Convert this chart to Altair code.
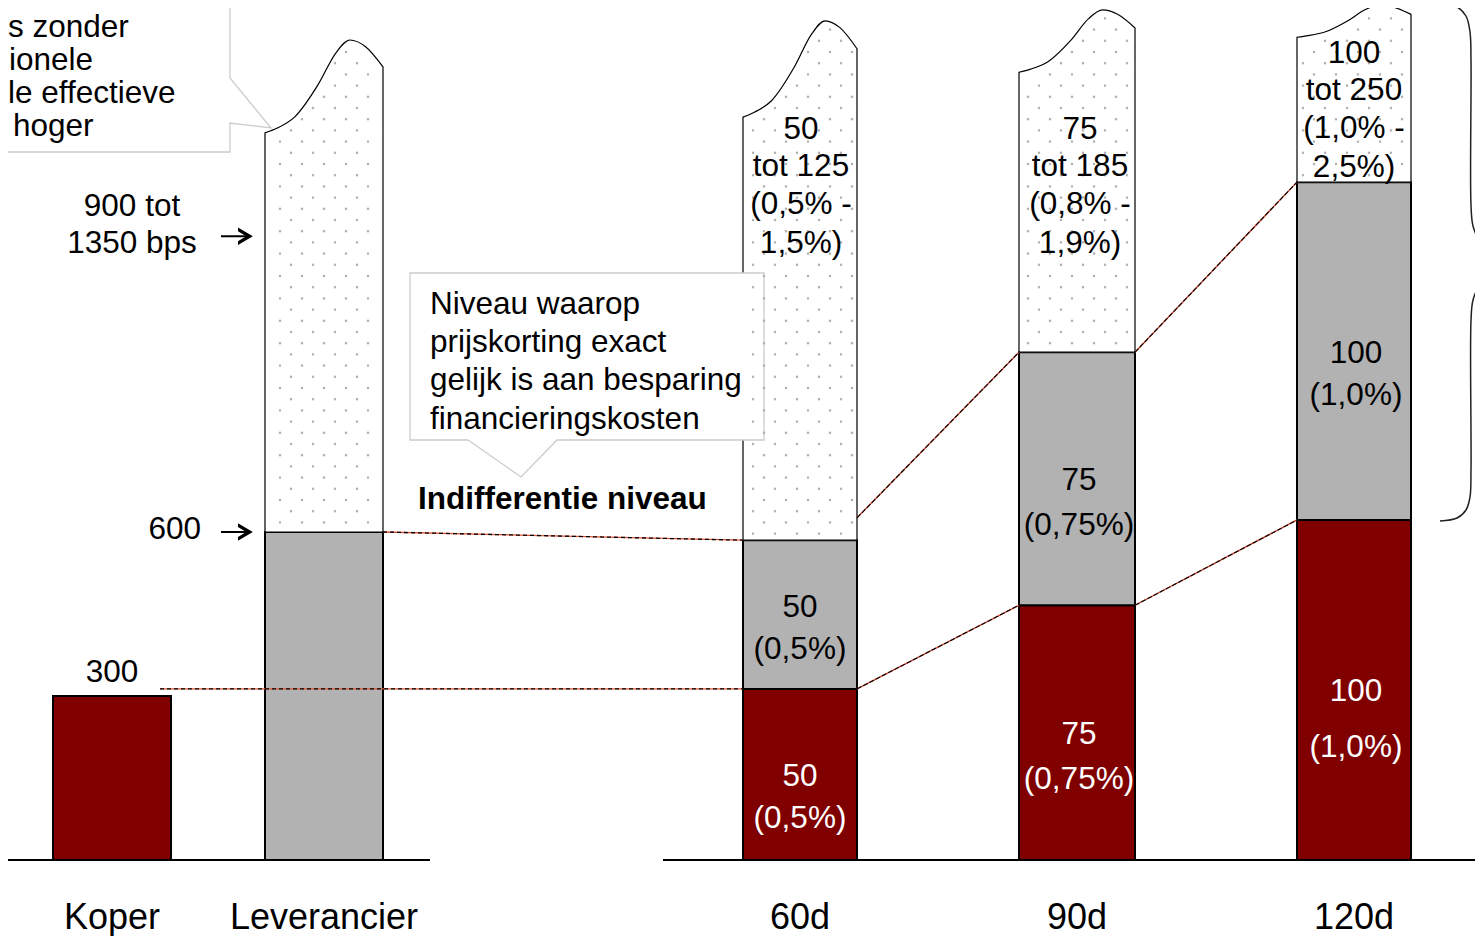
import altair as alt
import numpy as np
import pandas as pd

# ---------------- data (bps scale: Koper = 300, Leverancier = 600)
categories = ["Koper", "Leverancier", "60d", "90d", "120d"]
red_top = [300, 0, 313, 466, 622]          # red segment 0 -> red_top
gray_top = [0, 600, 585, 929, 1240]        # grey segment red_top -> gray_top
dot_left_top = [0, 1330, 1359, 1441, 1505] # dotted (open-ended) segment, left top
dot_peak = [0, 1500, 1535, 1555, 1564]     # dotted segment, peak of the wavy top

dot_labels = [["50", "tot 125", "(0,5% -", "1,5%)"],
              ["75", "tot 185", "(0,8% -", "1,9%)"],
              ["100", "tot 250", "(1,0% -", "2,5%)"]]
gray_labels = [["50", "(0,5%)"], ["75", "(0,75%)"], ["100", "(1,0%)"]]
red_labels = [["50", "(0,5%)"], ["75", "(0,75%)"], ["100", "(1,0%)"]]
koper_label = "300"
level_labels = ["600", "900 tot", "1350 bps"]
level_values = [600, 1141]
box_lines = ["Niveau waarop", "prijskorting exact", "gelijk is aan besparing", "financieringskosten"]
indiff_label = "Indifferentie niveau"
callout_fragments = ["s zonder", "ionele", "le effectieve", "hoger"]

# connector lines (bps levels at each end)
dashed_links = [(0, 313, 2, 313), (1, 600, 2, 585)]
solid_links = [(2, 313, 3, 466), (3, 466, 4, 622), (2, 626, 3, 929), (3, 929, 4, 1240)]

# ---------------- layout
K = 328 / 600.0                 # px per bps
BASE = 860                      # baseline, px from top
def Y(py):
    return (BASE - py) / K

BAR_C = [112, 324, 800, 1077, 1354]
BAR_W = [118, 118, 114, 116, 114]
LEFT = [c - w / 2 for c, w in zip(BAR_C, BAR_W)]
RIGHT = [c + w / 2 for c, w in zip(BAR_C, BAR_W)]
RED = "#800000"
GREY = "#b2b2b2"
FONT = "Liberation Sans"
FS = 31.5
CFS = 36
W, H = 1467, 928

XS = alt.Scale(domain=[8, 8 + W], nice=False, zero=False)
YS = alt.Scale(domain=[Y(8 + H), Y(8)], nice=False, zero=False)

def xq(f="x"):
    return alt.X(f"{f}:Q", scale=XS, axis=None)

def yq(f="y"):
    return alt.Y(f"{f}:Q", scale=YS, axis=None)

# ---------------- bars
rows = []
for i, c in enumerate(categories):
    if red_top[i] > 0:
        rows.append(dict(x=LEFT[i], x2=RIGHT[i], y=0, y2=red_top[i], fill=RED))
    if gray_top[i] > 0:
        rows.append(dict(x=LEFT[i], x2=RIGHT[i], y=red_top[i], y2=gray_top[i], fill=GREY))
bars = alt.Chart(pd.DataFrame(rows)).mark_rect(stroke="black", strokeWidth=2).encode(
    x=xq(), x2="x2:Q", y=yq(), y2="y2:Q", fill=alt.Fill("fill:N", scale=None))

# ---------------- dotted open-ended segments with wavy top
SHAPE = [(0, 0), (0.1, 0.05), (0.25, 0.17), (0.45, 0.52), (0.6, 0.86), (0.72, 1.0), (0.85, 0.93), (1.0, 0.71)]
arows, dots = [], []
grid_rows = np.arange(-4, BASE, 11.2)
for i in range(1, 5):
    xs = [LEFT[i] + u * BAR_W[i] for u, v in SHAPE]
    ys = [dot_left_top[i] + v * (dot_peak[i] - dot_left_top[i]) for u, v in SHAPE]
    for xx, yy in zip(xs, ys):
        arows.append(dict(bar=categories[i], x=xx, y=yy, y2=gray_top[i]))
    ys_px = [BASE - yy * K for yy in ys]
    gpx = BASE - gray_top[i] * K
    for r, py in enumerate(grid_rows):
        off = 0 if r % 2 == 0 else 11
        for px in np.arange(5 + off, 1483, 22):
            if LEFT[i] + 4 < px < RIGHT[i] - 4:
                top = np.interp(px, xs, ys_px)
                if top + 5 < py < gpx - 4:
                    dots.append(dict(x=px, y=Y(py)))
dotted = alt.Chart(pd.DataFrame(arows)).mark_area(
    fill="white", stroke="black", strokeWidth=1.2, interpolate="monotone", orient="vertical").encode(
    x=xq(), y=yq(), y2="y2:Q", detail="bar:N")
dotlayer = alt.Chart(pd.DataFrame(dots)).mark_square(size=5, color="#b0b0b0", opacity=1).encode(
    x=xq(), y=yq())

# ---------------- baselines
base_df = pd.DataFrame([dict(x=7, x2=430, y=0, y2=0), dict(x=663, x2=1483, y=0, y2=0)])
baselines = alt.Chart(base_df).mark_rule(color="black", strokeWidth=2).encode(
    x=xq(), x2="x2:Q", y=yq(), y2="y2:Q")

# ---------------- connector lines
def link_rows(links):
    out = []
    for a, ya, b, yb in links:
        xa = 160 if a == 0 else RIGHT[a]
        out.append(dict(x=xa, x2=LEFT[b], y=ya, y2=yb))
    return pd.DataFrame(out)

dash_df = link_rows(dashed_links)
solid_df = link_rows(solid_links)
links = [
    alt.Chart(dash_df).mark_rule(color="#e0553a", strokeWidth=1.3).encode(x=xq(), x2="x2:Q", y=yq(), y2="y2:Q"),
    alt.Chart(dash_df).mark_rule(color="black", strokeWidth=1.3, strokeDash=[4, 3]).encode(x=xq(), x2="x2:Q", y=yq(), y2="y2:Q"),
    alt.Chart(solid_df).mark_rule(color="#d04530", strokeWidth=1.4).encode(x=xq(), x2="x2:Q", y=yq(), y2="y2:Q"),
    alt.Chart(solid_df).mark_rule(color="black", strokeWidth=1.1, strokeDash=[5, 2]).encode(x=xq(), x2="x2:Q", y=yq(), y2="y2:Q"),
]

# ---------------- callout boxes
box_fill = pd.DataFrame([dict(x=-20, x2=230, y=Y(-20), y2=Y(152)), dict(x=410, x2=764, y=Y(273), y2=Y(440))])
boxes = alt.Chart(box_fill).mark_rect(fill="white", strokeWidth=0).encode(x=xq(), x2="x2:Q", y=yq(), y2="y2:Q")
ptr_df = pd.DataFrame([
    dict(p="a", x=229, y=Y(78), y2=Y(123)), dict(p="a", x=271, y=Y(128), y2=Y(128)),
    dict(p="b", x=468, y=Y(439), y2=Y(440)), dict(p="b", x=521, y=Y(439), y2=Y(477)), dict(p="b", x=557, y=Y(439), y2=Y(440)),
])
pointers = alt.Chart(ptr_df).mark_area(fill="white", orient="vertical", interpolate="linear").encode(
    x=xq(), y=yq(), y2="y2:Q", detail="p:N")
outline_pts = [
    ("a", [(-20, 152), (230, 152), (230, 123), (271, 128), (230, 78), (230, -20)]),
    ("b", [(468, 440), (410, 440), (410, 273), (764, 273), (764, 440), (557, 440), (521, 477), (468, 440)]),
]
orows = []
for k, pts in outline_pts:
    for j, (px, py) in enumerate(pts):
        orows.append(dict(p=k, o=j, x=px, y=Y(py)))
outlines = alt.Chart(pd.DataFrame(orows)).mark_line(color="#cccccc", strokeWidth=1.3).encode(
    x=xq(), y=yq(), order="o:Q", detail="p:N")

# ---------------- brace
brace_px = [(1440, 4), (1457, 7), (1466, 16), (1470, 32), (1471, 60), (1471, 205), (1473, 226), (1480, 242),
            (1490, 255), (1498, 263), (1490, 271), (1480, 284), (1473, 300), (1471, 321), (1471, 470),
            (1470, 497), (1466, 510), (1457, 518), (1440, 521)]
brace = alt.Chart(pd.DataFrame([dict(o=j, x=px, y=Y(py)) for j, (px, py) in enumerate(brace_px)])).mark_line(
    color="#222222", strokeWidth=1.5, interpolate="catmull-rom").encode(x=xq(), y=yq(), order="o:Q")

# ---------------- arrows
arrow_df = pd.DataFrame([dict(x=221, x2=248, y=v, y2=v) for v in level_values])
shafts = alt.Chart(arrow_df).mark_rule(color="black", strokeWidth=2).encode(x=xq(), x2="x2:Q", y=yq(), y2="y2:Q")
CHEVRON = "M-1,-0.62L0.06,0L-1,0.62L-1,0.36L-0.42,0L-1,-0.36Z"
heads = alt.Chart(pd.DataFrame([dict(x=252, y=v) for v in level_values])).mark_point(
    shape=CHEVRON, size=784, filled=True, color="black", opacity=1, strokeWidth=0).encode(x=xq(), y=yq())

# ---------------- texts
trows = []
def add(text, px, py, color="black", size=FS):
    trows.append(dict(t=text, x=px, y=Y(py), c=color, s=size))

dot_x = [801, 1080, 1354]
dot_y = [[130, 167, 205, 244], [130, 167, 205, 244], [54, 91, 129, 168]]
gray_x = [800, 1079, 1356]
gray_y = [[608, 650], [481, 526], [354, 396]]
red_y = [[777, 819], [735, 780], [692, 748]]
for j in range(3):
    for t, py in zip(dot_labels[j], dot_y[j]):
        add(t, dot_x[j], py)
    for t, py in zip(gray_labels[j], gray_y[j]):
        add(t, gray_x[j], py)
    for t, py in zip(red_labels[j], red_y[j]):
        add(t, gray_x[j], py, color="white")
add(koper_label, 112, 673)
add(level_labels[1], 132, 207)
add(level_labels[2], 132, 244)
for c, px in zip(categories, BAR_C):
    add(c, px, 918, size=CFS)
center_text = alt.Chart(pd.DataFrame(trows)).mark_text(font=FONT, align="center", baseline="middle").encode(
    x=xq(), y=yq(), text="t:N", color=alt.Color("c:N", scale=None), size=alt.Size("s:Q", scale=None))

lrows = [dict(t=t, x=430, y=Y(py)) for t, py in zip(box_lines, [305, 343, 381, 420])]
lrows += [dict(t=t, x=px, y=Y(py)) for t, px, py in zip(callout_fragments, [8, 9, 8, 13], [28, 61, 94, 127])]
left_text = alt.Chart(pd.DataFrame(lrows)).mark_text(font=FONT, align="left", baseline="middle", fontSize=FS,
                                                      color="black").encode(x=xq(), y=yq(), text="t:N")
right_text = alt.Chart(pd.DataFrame([dict(t=level_labels[0], x=201, y=Y(530))])).mark_text(
    font=FONT, align="right", baseline="middle", fontSize=FS, color="black").encode(x=xq(), y=yq(), text="t:N")
bold_text = alt.Chart(pd.DataFrame([dict(t=indiff_label, x=418, y=Y(500))])).mark_text(
    font=FONT, align="left", baseline="middle", fontSize=FS, fontWeight="bold", color="black").encode(
    x=xq(), y=yq(), text="t:N")

chart = alt.layer(
    bars, dotted, boxes, pointers, outlines, dotlayer, baselines, *links,
    brace, shafts, heads, center_text, left_text, right_text, bold_text
).properties(
    width=W, height=H, padding=0, autosize=alt.AutoSizeParams(type="none"), background="white"
).configure_view(stroke=None)

chart.save("out.html", embed_options={"renderer": "svg", "actions": False})
